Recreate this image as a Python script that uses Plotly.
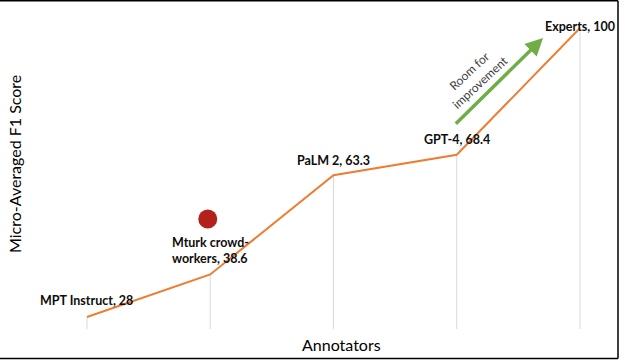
import plotly.graph_objects as go

# ---- data ----
annotators = ["MPT Instruct", "Mturk crowd-workers", "PaLM 2", "GPT-4", "Experts"]
label_names = ["MPT Instruct", "Mturk crowd-<br>workers", "PaLM 2", "GPT-4", "Experts"]
f1_scores = [28, 38.6, 63.3, 68.4, 100]
label_yshift = [16, 24, 15, 15, 2]

y_min, y_max = 25, 100

# decorative marker (red dot) and improvement arrow, in data units
dot_x, dot_y = [0.98], [52.4]
arrow_tail = (2.98, 75.8)
arrow_head = (3.70, 97.5)
arrow_text_pos = (3.15, 87.8)

x_idx = list(range(len(annotators)))

fig = go.Figure()

# drop lines from each point to the bottom of the plot
fig.add_trace(go.Scatter(
    x=x_idx, y=f1_scores, mode="markers",
    marker=dict(size=0.1, color="rgba(0,0,0,0)"),
    error_y=dict(type="data", symmetric=False,
                 array=[0] * len(f1_scores),
                 arrayminus=[v - y_min for v in f1_scores],
                 color="#D9D9D9", thickness=1, width=0),
    hoverinfo="skip", showlegend=False, cliponaxis=False,
))

# main line
fig.add_trace(go.Scatter(
    x=x_idx, y=f1_scores, mode="lines",
    line=dict(color="#ED7D31", width=2),
    showlegend=False, cliponaxis=False,
))

# red dot
fig.add_trace(go.Scatter(
    x=dot_x, y=dot_y, mode="markers",
    marker=dict(size=19, color="#B2221A"),
    showlegend=False, cliponaxis=False,
))

annotations = []
for xi, name, val, ys in zip(x_idx, label_names, f1_scores, label_yshift):
    annotations.append(dict(
        x=xi, y=val, xref="x", yref="y",
        text=f"<b>{name}, {val:g}</b>", showarrow=False,
        yshift=ys, yanchor="middle", xanchor="center", align="left",
        font=dict(family="Lato", size=12.5, color="#0D0D0D"),
    ))

# green arrow
annotations.append(dict(
    x=arrow_head[0], y=arrow_head[1], ax=arrow_tail[0], ay=arrow_tail[1],
    xref="x", yref="y", axref="x", ayref="y", text="",
    showarrow=True, arrowhead=2, arrowsize=1.0, arrowwidth=3.5,
    arrowcolor="#70AD47",
))
annotations.append(dict(
    x=arrow_text_pos[0], y=arrow_text_pos[1], xref="x", yref="y",
    text="Room for<br>improvement", showarrow=False, textangle=-43,
    xanchor="center", yanchor="middle",
    font=dict(family="Lato", size=12, color="#404040"),
))

L, R, T, B = 50, 7, 28, 35
W, H = 624, 364
pw, ph = W - L - R, H - T - B

def px_to_paper(px, py):
    return (px - L) / pw, (H - B - py) / ph

tx, ty = px_to_paper(14, 164)
annotations.append(dict(
    x=tx, y=ty, xref="paper", yref="paper", text="Micro-Averaged F1 Score",
    textangle=-90, showarrow=False, xanchor="center", yanchor="middle",
    font=dict(family="Lato", size=16, color="#000000"),
))
ax_, ay_ = px_to_paper(341, 344)
annotations.append(dict(
    x=ax_, y=ay_, xref="paper", yref="paper", text="Annotators",
    showarrow=False, xanchor="center", yanchor="middle",
    font=dict(family="Lato", size=16, color="#000000"),
))

# border lines (top, right, bottom)
x0, y0 = px_to_paper(0, 0.75)
x1, _ = px_to_paper(618, 0)
_, yb = px_to_paper(0, 358.5)
shapes = [
    dict(type="line", xref="paper", yref="paper", x0=x0, x1=x1, y0=y0, y1=y0,
         line=dict(color="#000000", width=1.5)),
    dict(type="line", xref="paper", yref="paper", x0=x1, x1=x1, y0=y0, y1=yb,
         line=dict(color="#000000", width=1.5)),
    dict(type="line", xref="paper", yref="paper", x0=x0, x1=x1, y0=yb, y1=yb,
         line=dict(color="#000000", width=1.5)),
]

fig.update_layout(
    width=W, height=H,
    margin=dict(l=L, r=R, t=T, b=B),
    paper_bgcolor="white", plot_bgcolor="white",
    xaxis=dict(range=[-0.3, 4.3], showgrid=False, zeroline=False,
               showticklabels=False, ticks="", showline=False),
    yaxis=dict(range=[y_min, y_max], showgrid=False, zeroline=False,
               showticklabels=False, ticks="", showline=False),
    annotations=annotations, shapes=shapes,
    showlegend=False,
)

fig.write_html(
    "out.html",
    config={"displayModeBar": False},
    post_script="document.body.style.margin='0';document.body.style.overflow='hidden';",
)
